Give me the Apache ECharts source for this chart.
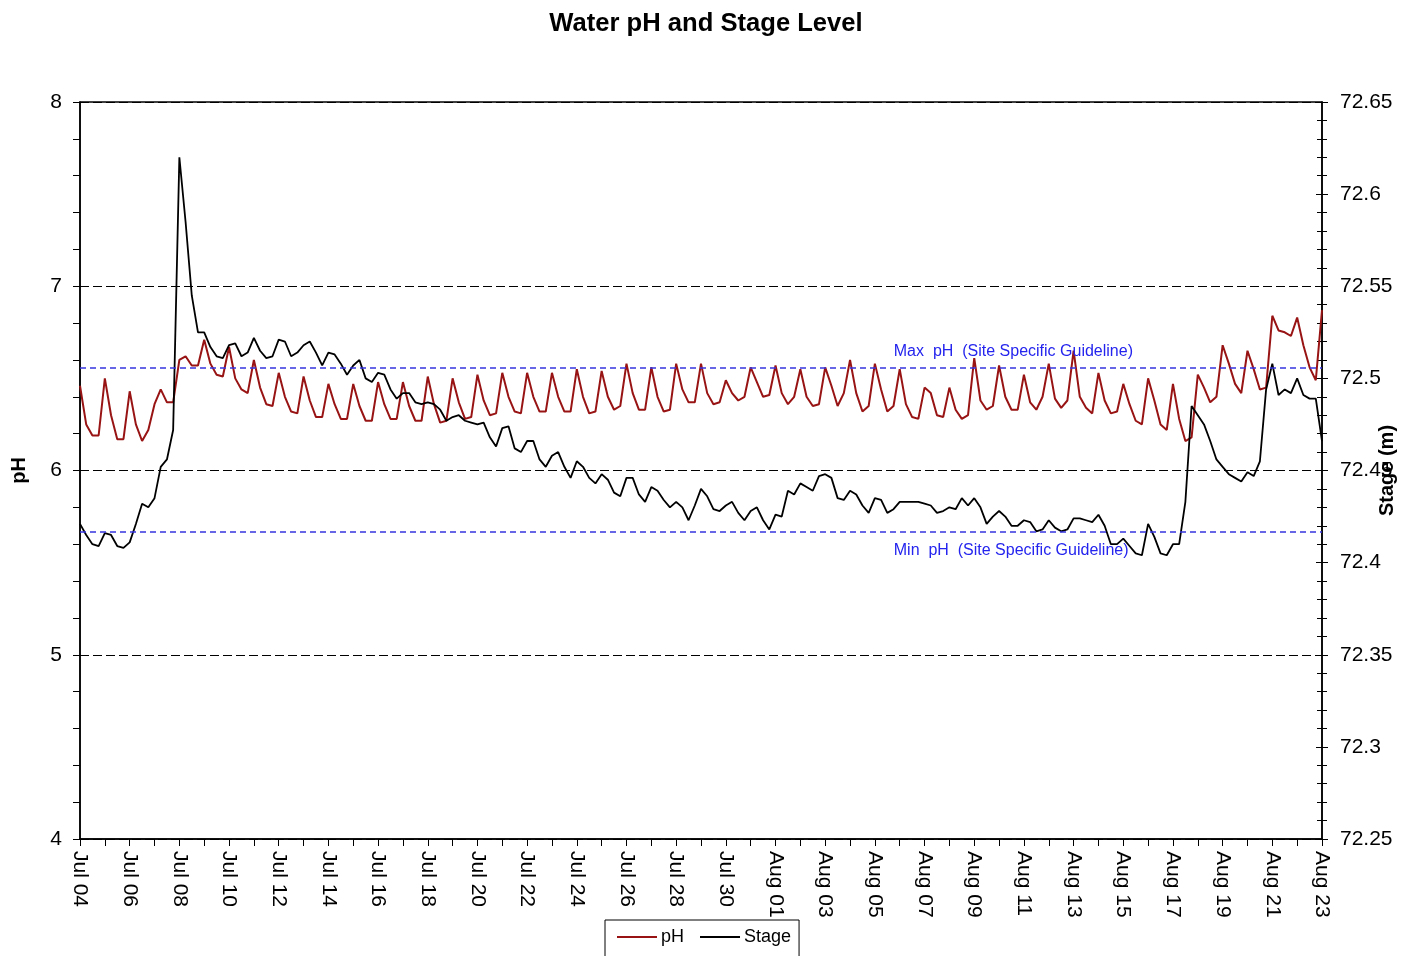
<!DOCTYPE html>
<html>
<head>
<meta charset="utf-8">
<script src="https://cdn.jsdelivr.net/npm/echarts@6/dist/echarts.min.js"></script>
<style>
html,body{margin:0;padding:0;background:#fff;}
#chart{width:1412px;height:956px;}
</style>
</head>
<body>
<div id="chart"></div>
<script>
// ---------------- data ----------------
const chartTitle = 'Water pH and Stage Level';
const startDateUTC = Date.UTC(2023, 6, 4);      // Jul 04
const monthNames = ['Jan','Feb','Mar','Apr','May','Jun','Jul','Aug','Sep','Oct','Nov','Dec'];
const sampleStepDays = 0.25;                     // one reading every 6 hours
const seriesNames = ['pH', 'Stage'];

// pH readings (4 per day, Jul 04 00:00 -> Aug 23 00:00)
const phValues = [
  6.46, 6.25, 6.19, 6.19,
  6.50, 6.30, 6.17, 6.17,
  6.43, 6.25, 6.16, 6.22,
  6.36, 6.44, 6.37, 6.37,
  6.60, 6.62, 6.57, 6.57,
  6.71, 6.58, 6.52, 6.51,
  6.67, 6.50, 6.44, 6.42,
  6.60, 6.45, 6.36, 6.35,
  6.53, 6.40, 6.32, 6.31,
  6.51, 6.38, 6.29, 6.29,
  6.47, 6.36, 6.28, 6.28,
  6.47, 6.35, 6.27, 6.27,
  6.48, 6.36, 6.28, 6.28,
  6.48, 6.35, 6.27, 6.27,
  6.51, 6.36, 6.26, 6.27,
  6.50, 6.37, 6.28, 6.29,
  6.52, 6.38, 6.30, 6.31,
  6.53, 6.40, 6.32, 6.31,
  6.53, 6.40, 6.32, 6.32,
  6.53, 6.40, 6.32, 6.32,
  6.55, 6.40, 6.31, 6.32,
  6.54, 6.40, 6.33, 6.35,
  6.58, 6.42, 6.33, 6.33,
  6.56, 6.40, 6.32, 6.33,
  6.58, 6.44, 6.37, 6.37,
  6.58, 6.42, 6.36, 6.37,
  6.49, 6.42, 6.38, 6.40,
  6.56, 6.48, 6.40, 6.41,
  6.57, 6.42, 6.36, 6.40,
  6.55, 6.40, 6.35, 6.36,
  6.56, 6.46, 6.35, 6.42,
  6.60, 6.42, 6.32, 6.35,
  6.58, 6.44, 6.32, 6.35,
  6.55, 6.36, 6.29, 6.28,
  6.45, 6.42, 6.30, 6.29,
  6.45, 6.33, 6.28, 6.30,
  6.61, 6.38, 6.33, 6.35,
  6.57, 6.40, 6.33, 6.33,
  6.52, 6.37, 6.33, 6.40,
  6.58, 6.39, 6.34, 6.38,
  6.65, 6.40, 6.34, 6.31,
  6.53, 6.38, 6.31, 6.32,
  6.47, 6.36, 6.27, 6.25,
  6.50, 6.38, 6.25, 6.22,
  6.47, 6.28, 6.16, 6.18,
  6.52, 6.45, 6.37, 6.40,
  6.68, 6.58, 6.47, 6.42,
  6.65, 6.55, 6.44, 6.45,
  6.84, 6.76, 6.75, 6.73,
  6.83, 6.68, 6.56, 6.49,
  6.87
];

// Stage readings in metres (same timestamps)
const stageValues = [
  72.421, 72.415, 72.410, 72.409,
  72.416, 72.415, 72.409, 72.408,
  72.411, 72.421, 72.432, 72.430,
  72.435, 72.452, 72.456, 72.472,
  72.620, 72.585, 72.545, 72.525,
  72.525, 72.517, 72.512, 72.511,
  72.518, 72.519, 72.512, 72.514,
  72.522, 72.515, 72.511, 72.512,
  72.521, 72.520, 72.512, 72.514,
  72.518, 72.520, 72.514, 72.507,
  72.514, 72.513, 72.508, 72.502,
  72.507, 72.510, 72.500, 72.498,
  72.503, 72.502, 72.494, 72.489,
  72.492, 72.492, 72.487, 72.486,
  72.487, 72.486, 72.483, 72.477,
  72.479, 72.480, 72.477, 72.476,
  72.475, 72.476, 72.468, 72.463,
  72.473, 72.474, 72.462, 72.460,
  72.466, 72.466, 72.456, 72.452,
  72.458, 72.460, 72.452, 72.446,
  72.455, 72.452, 72.446, 72.443,
  72.448, 72.445, 72.438, 72.436,
  72.446, 72.446, 72.437, 72.433,
  72.441, 72.439, 72.434, 72.430,
  72.433, 72.430, 72.423, 72.431,
  72.440, 72.436, 72.429, 72.428,
  72.431, 72.433, 72.427, 72.423,
  72.428, 72.430, 72.423, 72.418,
  72.426, 72.425, 72.439, 72.437,
  72.443, 72.441, 72.439, 72.447,
  72.448, 72.446, 72.435, 72.434,
  72.439, 72.437, 72.431, 72.427,
  72.435, 72.434, 72.427, 72.429,
  72.433, 72.433, 72.433, 72.433,
  72.432, 72.431, 72.427, 72.428,
  72.430, 72.429, 72.435, 72.431,
  72.435, 72.430, 72.421, 72.425,
  72.428, 72.425, 72.420, 72.420,
  72.423, 72.422, 72.417, 72.418,
  72.423, 72.419, 72.417, 72.418,
  72.424, 72.424, 72.423, 72.422,
  72.426, 72.420, 72.410, 72.410,
  72.413, 72.409, 72.405, 72.404,
  72.421, 72.414, 72.405, 72.404,
  72.410, 72.410, 72.433, 72.485,
  72.480, 72.475, 72.466, 72.456,
  72.452, 72.448, 72.446, 72.444,
  72.449, 72.447, 72.455, 72.494,
  72.508, 72.491, 72.494, 72.492,
  72.500, 72.491, 72.489, 72.489,
  72.466
];

// Axis ranges / ticks
const xDayRange = [0, 50];
const xDayInterval = 2;
const phRange = [4, 8];
const phInterval = 1;
const stageRange = [72.25, 72.65];
const stageInterval = 0.05;

// Guidelines
const phGuidelineMax = 6.56;
const phGuidelineMin = 5.67;
const guidelineMaxText = 'Max  pH  (Site Specific Guideline)';
const guidelineMinText = 'Min  pH  (Site Specific Guideline)';
const guidelineLabelDay = 32.76;
const guidelineMaxLabelPh = 6.645;
const guidelineMinLabelPh = 5.565;

// ---------------- build ----------------
const FONT = "'Liberation Sans', Arial, sans-serif";
const phData = phValues.map((v, i) => [i * sampleStepDays, v]);
const stageData = stageValues.map((v, i) => [i * sampleStepDays, v]);

function dayLabel(v) {
  const d = new Date(startDateUTC + v * 86400000);
  return monthNames[d.getUTCMonth()] + ' ' + String(d.getUTCDate()).padStart(2, '0');
}

const chart = echarts.init(document.getElementById('chart'), null, {renderer: 'canvas'});
const option = {
  animation: false,
  backgroundColor: '#ffffff',
  textStyle: {fontFamily: FONT, color: '#000'},
  title: {
    text: chartTitle, left: 'center', top: 6,
    textStyle: {fontFamily: FONT, fontSize: 25.6, fontWeight: 'bold', color: '#000'}
  },
  legend: {
    data: [{name: seriesNames[0], icon: 'rect'}, {name: seriesNames[1], icon: 'rect'}],
    left: 605, top: 920,
    itemWidth: 40, itemHeight: 2, itemGap: 16,
    borderColor: '#000', borderWidth: 1, borderRadius: 0,
    padding: [8, 8, 14, 12],
    textStyle: {fontFamily: FONT, fontSize: 18, color: '#000', padding: [0, 0, 0, -1]}
  },
  grid: {
    left: 80, right: 90, top: 102, bottom: 117,
    show: true, borderColor: '#000', borderWidth: 1.5, backgroundColor: 'transparent',
    containLabel: false, outerBoundsMode: 'none'
  },
  xAxis: {
    type: 'value', min: xDayRange[0], max: xDayRange[1], interval: xDayInterval,
    axisLine: {show: true, onZero: false, lineStyle: {color: '#000', width: 1.5}},
    axisTick: {show: true, length: 7, lineStyle: {color: '#000', width: 1}},
    minorTick: {show: true, splitNumber: 2, length: 7, lineStyle: {color: '#000', width: 1}},
    splitLine: {show: false},
    minorSplitLine: {show: false},
    axisLabel: {
      rotate: -90, margin: 12, fontFamily: FONT, fontSize: 21, color: '#000',
      formatter: dayLabel, showMinLabel: true, showMaxLabel: true
    }
  },
  yAxis: [
    {
      type: 'value', position: 'left', min: phRange[0], max: phRange[1], interval: phInterval,
      name: 'pH', nameLocation: 'middle', nameGap: 51, nameRotate: 90, nameMoveOverlap: false,
      nameTextStyle: {fontFamily: FONT, fontSize: 20, fontWeight: 'bold', color: '#000'},
      axisLine: {show: true, lineStyle: {color: '#000', width: 1.5}},
      axisTick: {show: true, length: 7, lineStyle: {color: '#000', width: 1}},
      minorTick: {show: true, splitNumber: 5, length: 7, lineStyle: {color: '#000', width: 1}},
      splitLine: {show: true, lineStyle: {color: '#000', type: [9, 4], width: 1}},
      axisLabel: {margin: 18, fontFamily: FONT, fontSize: 21, color: '#000'}
    },
    {
      type: 'value', position: 'right', min: stageRange[0], max: stageRange[1], interval: stageInterval,
      name: 'Stage (m)', nameLocation: 'middle', nameGap: 55, nameRotate: 90, nameMoveOverlap: false,
      nameTextStyle: {fontFamily: FONT, fontSize: 20, fontWeight: 'bold', color: '#000'},
      axisLine: {show: true, lineStyle: {color: '#000', width: 1.5}},
      axisTick: {show: true, length: 6, lineStyle: {color: '#000', width: 1}},
      minorTick: {show: true, splitNumber: 5, length: 5, lineStyle: {color: '#000', width: 1}},
      splitLine: {show: false},
      axisLabel: {margin: 18, fontFamily: FONT, fontSize: 21, color: '#000',
        formatter: v => String(+v.toFixed(2))}
    },
    {
      type: 'value', position: 'right', min: stageRange[0], max: stageRange[1], interval: stageInterval,
      axisLine: {show: false},
      axisTick: {show: true, inside: true, length: 6, lineStyle: {color: '#000', width: 1}},
      minorTick: {show: true, splitNumber: 5, length: 5, lineStyle: {color: '#000', width: 1}},
      splitLine: {show: false},
      axisLabel: {show: false}
    }
  ],
  series: [
    {
      name: seriesNames[0], type: 'line', yAxisIndex: 0, data: phData,
      showSymbol: false, symbol: 'none',
      lineStyle: {color: '#981414', width: 2},
      itemStyle: {color: '#981414'},
      markLine: {
        silent: true, symbol: 'none', animation: false,
        label: {show: false},
        lineStyle: {color: '#3535e0', type: [6, 4], width: 1.6},
        data: [{yAxis: phGuidelineMax}, {yAxis: phGuidelineMin}]
      },
      markPoint: {
        silent: true, symbol: 'circle', symbolSize: 0, animation: false,
        label: {show: true, position: 'right', distance: 0, fontFamily: FONT, fontSize: 16, color: '#2424ee'},
        data: [
          {coord: [guidelineLabelDay, guidelineMaxLabelPh], label: {formatter: guidelineMaxText}},
          {coord: [guidelineLabelDay, guidelineMinLabelPh], label: {formatter: guidelineMinText}}
        ]
      }
    },
    {
      name: seriesNames[1], type: 'line', yAxisIndex: 1, data: stageData,
      showSymbol: false, symbol: 'none',
      lineStyle: {color: '#000000', width: 1.8},
      itemStyle: {color: '#000000'}
    }
  ]
};
chart.setOption(option);
</script>
</body>
</html>
